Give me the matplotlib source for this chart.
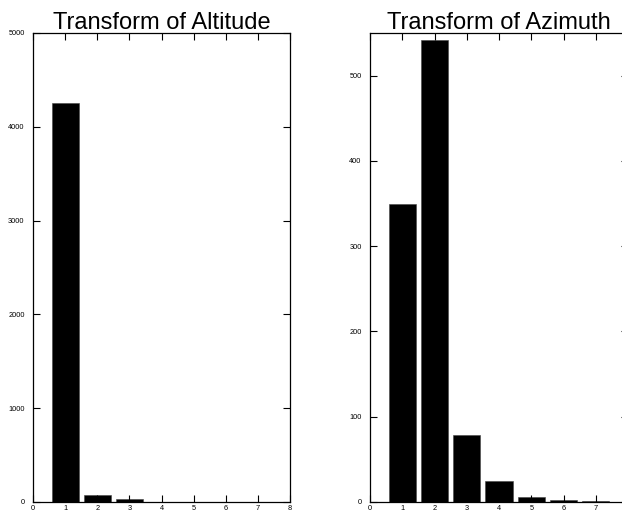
import numpy as np
import matplotlib
matplotlib.use("Agg")
import matplotlib.pyplot as plt

# ==============================
# Data
# ==============================

bins = [1, 2, 3, 4, 5, 6, 7, 8]
altitude_counts = [4250, 75, 30, 5, 3, 2, 2, 1]
azimuth_counts = [350, 542, 78, 25, 6, 2, 1, 0.5]

alt_yticks = [0, 1000, 2000, 3000, 4000, 5000]
az_yticks = [0, 100, 200, 300, 400, 500]
xticks = [0, 1, 2, 3, 4, 5, 6, 7, 8]

plt.rcParams["font.family"] = ["Liberation Sans", "DejaVu Sans"]

fig = plt.figure(figsize=(6.22, 5.14), dpi=100)

# axes positions in figure fractions (right panel runs off the edge)
ax1 = fig.add_axes([33 / 622, 12 / 514, 257 / 622, 469 / 514])
ax2 = fig.add_axes([370 / 622, 12 / 514, 258 / 622, 469 / 514])


def style(ax, title, ylim, yticks):
    ax.set_xlim(0, 8)
    ax.set_ylim(*ylim)
    ax.set_xticks(xticks)
    ax.set_yticks(yticks)
    ax.tick_params(direction="in", length=5, width=0.8, labelsize=5.3,
                   top=True, right=True, colors="black")
    ax.tick_params(axis="y", pad=6)
    ax.tick_params(axis="x", pad=2.5)
    for s in ax.spines.values():
        s.set_linewidth(0.9)
    ax.set_title(title, fontsize=17, pad=3)


ax1.bar(bins, altitude_counts, width=0.84, color="black", edgecolor="#444444", linewidth=0.4)
style(ax1, "Transform of Altitude", (0, 5000), alt_yticks)

ax2.bar(bins, azimuth_counts, width=0.84, color="black", edgecolor="#444444", linewidth=0.4)
style(ax2, "Transform of Azimuth", (0, 550), az_yticks)
# the "8" label falls past the figure edge, as in the reference
ax2.set_xticklabels([str(t) for t in xticks[:-1]] + [""])

fig.savefig("out.png", dpi=100)
